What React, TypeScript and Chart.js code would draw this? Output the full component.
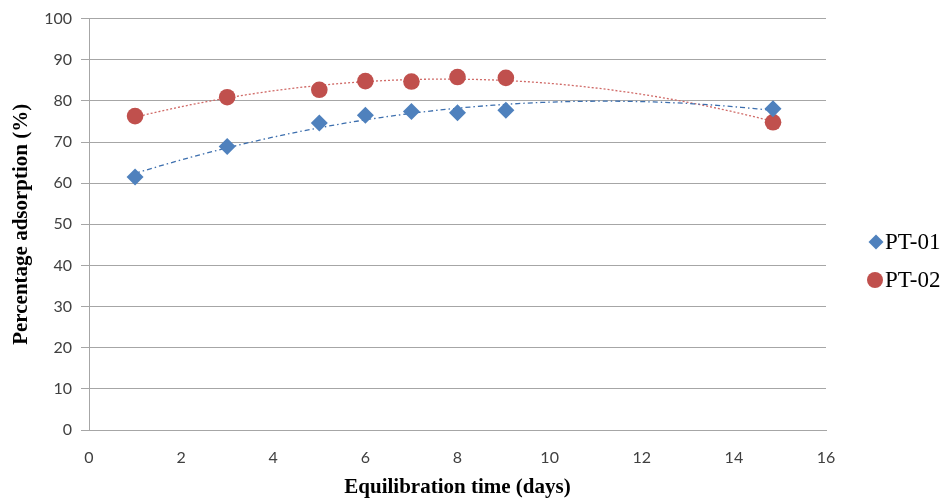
import React, { useEffect, useRef } from "react";
import { Chart, registerables } from "chart.js";

Chart.register(...registerables);

const daysPT01 = [1, 3, 5, 6, 7, 8, 9.05, 14.85];
const adsorptionPT01 = [61.5, 68.9, 74.6, 76.5, 77.4, 77.1, 77.7, 78.1];
const daysPT02 = [1, 3, 5, 6, 7, 8, 9.05, 14.85];
const adsorptionPT02 = [76.3, 80.9, 82.7, 84.8, 84.7, 85.8, 85.6, 74.8];
const seriesNames = ["PT-01", "PT-02"];
const xTitle = "Equilibration time (days)";
const yTitle = "Percentage adsorption (%)";

// Least-squares quadratic fit (Excel-style polynomial trendline, order 2)
function quadFit(xs: number[], ys: number[]) {
  let s0 = 0, s1 = 0, s2 = 0, s3 = 0, s4 = 0, t0 = 0, t1 = 0, t2 = 0;
  for (let i = 0; i < xs.length; i++) {
    const x = xs[i], y = ys[i];
    s0 += 1; s1 += x; s2 += x * x; s3 += x * x * x; s4 += x * x * x * x;
    t0 += y; t1 += x * y; t2 += x * x * y;
  }
  const M = [
    [s0, s1, s2, t0],
    [s1, s2, s3, t1],
    [s2, s3, s4, t2],
  ];
  for (let c = 0; c < 3; c++) {
    let p = c;
    for (let r = c + 1; r < 3; r++) if (Math.abs(M[r][c]) > Math.abs(M[p][c])) p = r;
    [M[c], M[p]] = [M[p], M[c]];
    for (let r = 0; r < 3; r++) {
      if (r === c) continue;
      const f = M[r][c] / M[c][c];
      for (let k = c; k < 4; k++) M[r][k] -= f * M[c][k];
    }
  }
  const a = M[0][3] / M[0][0], b = M[1][3] / M[1][1], cc = M[2][3] / M[2][2];
  return (x: number) => a + b * x + cc * x * x;
}

function trendPoints(xs: number[], ys: number[]) {
  const f = quadFit(xs, ys);
  const x0 = Math.min(...xs), x1 = Math.max(...xs);
  const n = 80;
  const pts: { x: number; y: number }[] = [];
  for (let i = 0; i <= n; i++) {
    const x = x0 + ((x1 - x0) * i) / n;
    pts.push({ x, y: f(x) });
  }
  return pts;
}

const BLUE = "#4F81BD";
const RED = "#C0504D";
const SERIF = '"Liberation Serif", "Times New Roman", Times, serif';

export default function App() {
  const ref = useRef<HTMLCanvasElement>(null);

  useEffect(() => {
    if (!ref.current) return;

    const legendPlugin = {
      id: "customLegend",
      afterDraw(chart: any) {
        const ctx = chart.ctx;
        ctx.save();
        ctx.font = "23px " + SERIF;
        ctx.textBaseline = "middle";
        ctx.textAlign = "left";
        // PT-01 diamond
        const dx = 876, dy = 242, h = 7.5;
        ctx.fillStyle = BLUE;
        ctx.beginPath();
        ctx.moveTo(dx, dy - h);
        ctx.lineTo(dx + h, dy);
        ctx.lineTo(dx, dy + h);
        ctx.lineTo(dx - h, dy);
        ctx.closePath();
        ctx.fill();
        ctx.fillStyle = "#000";
        ctx.fillText(seriesNames[0], 885, dy + 1);
        // PT-02 circle
        const cx = 875, cy = 280;
        ctx.fillStyle = RED;
        ctx.beginPath();
        ctx.arc(cx, cy, 8, 0, Math.PI * 2);
        ctx.fill();
        ctx.fillStyle = "#000";
        ctx.fillText(seriesNames[1], 885, cy + 1);
        ctx.restore();
      },
    };

    const chart = new Chart(ref.current, {
      type: "scatter",
      data: {
        datasets: [
          {
            label: seriesNames[0] + " trend",
            type: "line",
            data: trendPoints(daysPT01, adsorptionPT01),
            borderColor: "#3D6FAE",
            borderWidth: 1.3,
            borderDash: [5, 3, 1.5, 3],
            pointRadius: 0,
            fill: false,
            tension: 0,
            order: 3,
          } as any,
          {
            label: seriesNames[1] + " trend",
            type: "line",
            data: trendPoints(daysPT02, adsorptionPT02),
            borderColor: "#D06A67",
            borderWidth: 1.3,
            borderDash: [2, 2],
            pointRadius: 0,
            fill: false,
            tension: 0,
            order: 3,
          } as any,
          {
            label: seriesNames[1],
            data: daysPT02.map((x, i) => ({ x, y: adsorptionPT02[i] })),
            pointStyle: "circle",
            pointRadius: 8.3,
            backgroundColor: RED,
            borderColor: RED,
            borderWidth: 0,
            order: 2,
          },
          {
            label: seriesNames[0],
            data: daysPT01.map((x, i) => ({ x, y: adsorptionPT01[i] })),
            pointStyle: "rectRot",
            pointRadius: 8.5,
            backgroundColor: BLUE,
            borderColor: BLUE,
            borderWidth: 0,
            order: 1,
          },
        ],
      },
      options: {
        animation: false,
        responsive: false,
        layout: { padding: { top: 18, right: 120, left: 0, bottom: 0 } },
        plugins: {
          legend: { display: false },
          tooltip: { enabled: false },
        },
        scales: {
          x: {
            type: "linear",
            min: 0,
            max: 16,
            ticks: {
              stepSize: 2,
              color: "#404040",
              padding: 18,
              font: { family: "Lato, Calibri, sans-serif", size: 16 },
            },
            grid: { display: false, drawTicks: false },
            border: { display: true, color: "#A6A6A6", width: 1 },
            title: {
              display: true,
              text: xTitle,
              color: "#000",
              font: { family: SERIF, size: 21, weight: "bold" },
              padding: { top: 0, bottom: 2 },
            },
            afterFit(scale: any) {
              scale.height = 72;
            },
          },
          y: {
            type: "linear",
            min: 0,
            max: 100,
            ticks: {
              stepSize: 10,
              color: "#404040",
              padding: 9,
              font: { family: "Lato, Calibri, sans-serif", size: 16 },
            },
            grid: { color: "#A6A6A6", lineWidth: 1, tickLength: 8, drawTicks: true },
            border: { display: true, color: "#A6A6A6", width: 1 },
            title: {
              display: true,
              text: yTitle,
              color: "#000",
              font: { family: SERIF, size: 21, weight: "bold" },
              padding: { top: 9, bottom: 0 },
            },
            afterFit(scale: any) {
              scale.width = 89;
            },
          },
        },
      } as any,
      plugins: [legendPlugin],
    });

    return () => chart.destroy();
  }, []);

  return (
    <div style={{ position: "fixed", left: 0, top: 0, width: 946, height: 502, background: "#fff" }}>
      <canvas ref={ref} width={946} height={502} style={{ width: 946, height: 502 }} />
    </div>
  );
}
